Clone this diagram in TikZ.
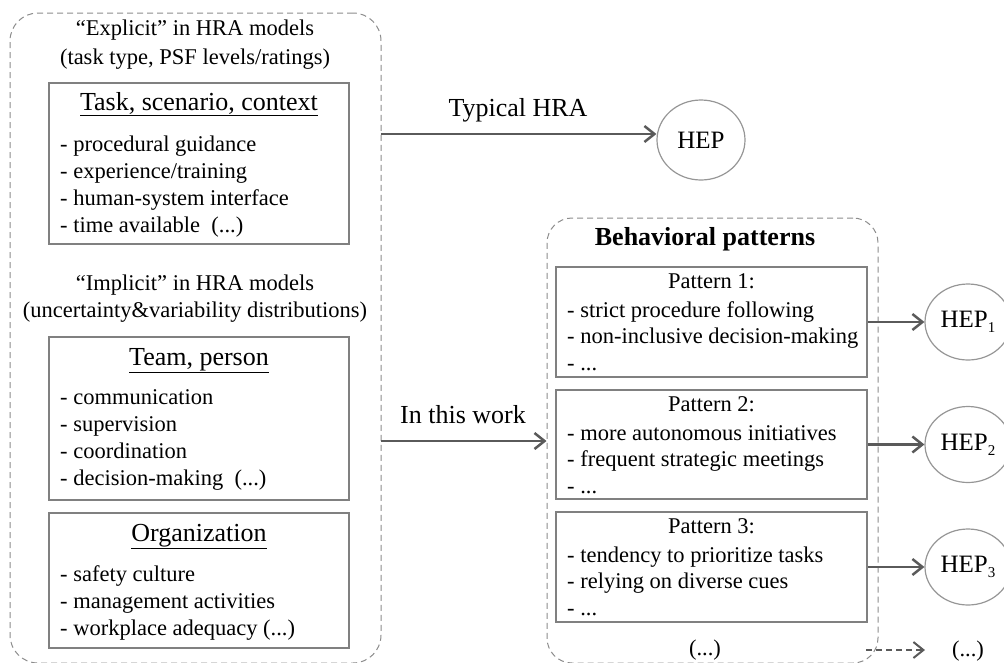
\documentclass[tikz,border=0pt]{standalone}
\usepackage{fontspec}
\setmainfont{Liberation Serif}
\usetikzlibrary{arrows.meta,shapes.geometric}
\definecolor{boxgray}{RGB}{128,128,128}
\definecolor{dashgray}{RGB}{140,140,140}
\definecolor{ellgray}{RGB}{150,150,150}
\definecolor{arrgray}{RGB}{90,90,90}
\newcommand{\hepsub}[1]{HEP\raisebox{-0.45ex}{\fontsize{15}{15}\selectfont #1}}
\begin{document}
\begin{tikzpicture}[x=1pt,y=-1pt,
  body/.style={font=\fontsize{22.5}{27}\selectfont, inner sep=0pt},
  head/.style={font=\fontsize{26}{30}\selectfont, inner sep=0pt},
  frame/.style={draw=boxgray, line width=2pt, rectangle, inner sep=0pt},
  group/.style={draw=dashgray, line width=1pt, dash pattern=on 6pt off 4pt,
                rectangle, rounded corners=28pt, inner sep=0pt},
  hepnode/.style={ellipse, draw=ellgray, line width=1.2pt, inner sep=0pt,
                  font=\fontsize{25}{30}\selectfont},
  flow/.style={draw=arrgray, line width=2.5pt,
               -{Straight Barb[length=10pt,width=16pt]}},
]
\clip (0,0) rectangle (1004,662);

% left group: PSF categories
\node[group, minimum width=371pt, minimum height=650pt] (leftC) at (195.5,338) {};
\node[body, anchor=base] (expl1) at (195,35) {“Explicit” in HRA models};
\node[body, anchor=base] (expl2) at (195,64) {(task type, PSF levels/ratings)};

\node[frame, minimum width=300pt, minimum height=161pt] (task) at (199,163.5) {};
\node[head, anchor=base] (taskT) at (199,110) {\underline{Task, scenario, context}};
\foreach \t [count=\i] in {- procedural guidance, - experience/training,
    - human-system interface, - time available\ \ ({...})}
  \node[body, anchor=base west] (task-\i) at (60,{151+27*(\i-1)}) {\t};

\node[body, anchor=base] (impl1) at (195,290) {“Implicit” in HRA models};
\node[body, anchor=base] (impl2) at (195,317) {(uncertainty\&variability distributions)};

\node[frame, minimum width=300pt, minimum height=163pt] (team) at (199,418.5) {};
\node[head, anchor=base] (teamT) at (199,365) {\underline{Team, person}};
\foreach \t [count=\i] in {- communication, - supervision, - coordination,
    - decision-making\ \ ({...})}
  \node[body, anchor=base west] (team-\i) at (60,{404+27*(\i-1)}) {\t};

\node[frame, minimum width=300pt, minimum height=135pt] (org) at (199,580.5) {};
\node[head, anchor=base] (orgT) at (199,541) {\underline{Organization}};
\foreach \t [count=\i] in {- safety culture, - management activities,
    - workplace adequacy ({...})}
  \node[body, anchor=base west] (org-\i) at (60,{581+27*(\i-1)}) {\t};

% typical HRA route
\node[hepnode, minimum width=88pt, minimum height=80pt] (hep) at (701,140) {HEP};
\coordinate (typ) at (381,134);
\draw[flow] (typ) -- (typ -| hep.west);
\node[head, anchor=base] (typL) at (518,116) {Typical HRA};

% right group: behavioral patterns
\node[group, rounded corners=25pt, minimum width=331pt, minimum height=445pt] (rightC) at (712.5,440.5) {};
\node[head, anchor=base, font=\fontsize{26}{30}\selectfont\bfseries] (bpT) at (705,245) {Behavioral patterns};

\node[frame, line width=1.6pt, minimum width=311pt, minimum height=110pt] (p1) at (711.5,322) {};
\node[body, anchor=base] (p1T) at (711.5,288) {Pattern 1:};
\foreach \t [count=\i] in {- strict procedure following, - non-inclusive decision-making, - {...}}
  \node[body, anchor=base west] (p1-\i) at (567,{317+26.5*(\i-1)}) {\t};

\node[frame, line width=1.6pt, minimum width=311pt, minimum height=109pt] (p2) at (711.5,444.5) {};
\node[body, anchor=base] (p2T) at (711.5,411) {Pattern 2:};
\foreach \t [count=\i] in {- more autonomous initiatives, - frequent strategic meetings, - {...}}
  \node[body, anchor=base west] (p2-\i) at (567,{440+26.5*(\i-1)}) {\t};

\node[frame, line width=1.6pt, minimum width=311pt, minimum height=110pt] (p3) at (711.5,567) {};
\node[body, anchor=base] (p3T) at (711.5,533) {Pattern 3:};
\foreach \t [count=\i] in {- tendency to prioritize tasks, - relying on diverse cues, - {...}}
  \node[body, anchor=base west] (p3-\i) at (567,{562+26.5*(\i-1)}) {\t};

\node[body, anchor=base] (moreP) at (705,655) {(...)};

% this work route
\coordinate (work) at (381,441);
\draw[flow] (work) -- (work -| rightC.west);
\node[head, anchor=base] (workL) at (463,423) {In this work};

% pattern-specific HEPs
\node[hepnode, minimum width=86pt, minimum height=76pt] (hep1) at (968,322) {\hepsub{1}};
\node[hepnode, minimum width=86pt, minimum height=76pt] (hep2) at (968,444.5) {\hepsub{2}};
\node[hepnode, minimum width=86pt, minimum height=76pt] (hep3) at (968,567) {\hepsub{3}};
\draw[flow] (p1.east) -- (hep1.west);
\draw[flow] (p2.east) -- (hep2.west);
\draw[flow] (p3.east) -- (hep3.west);

\node[body, anchor=base] (moreH) at (968,656) {(...)};
\coordinate (dashS) at (866,650);
\coordinate (dashE) at (925,650);
\draw[flow, line width=2pt, dash pattern=on 6pt off 4pt] (dashS) -- (dashE);
\end{tikzpicture}
\end{document}
